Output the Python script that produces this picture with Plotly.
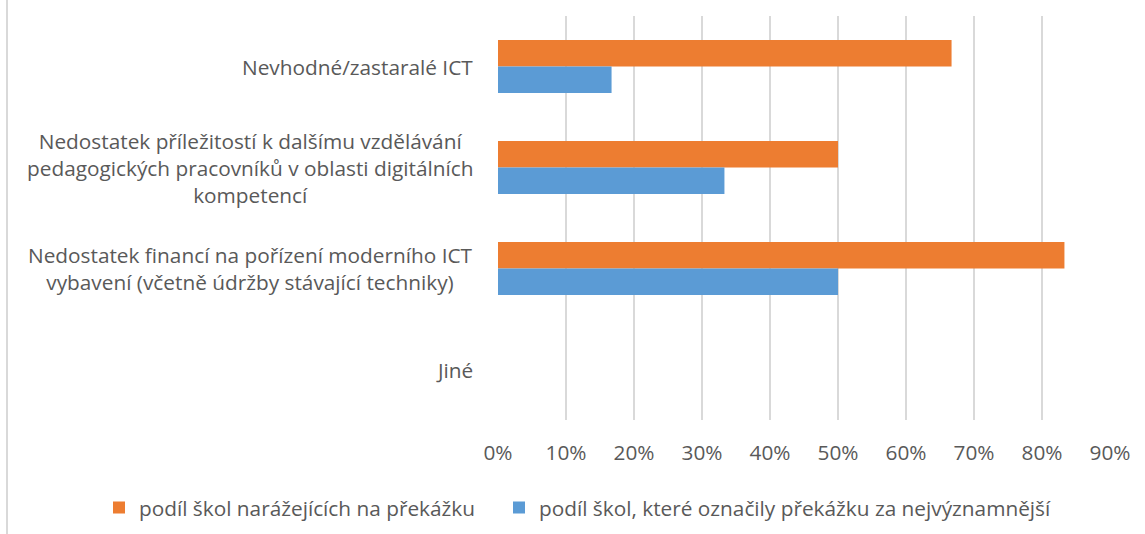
import plotly.graph_objects as go

categories = [
    "Nevhodné/zastaralé ICT",
    "Nedostatek příležitostí k dalšímu vzdělávání<br>pedagogických pracovníků v oblasti digitálních<br>kompetencí",
    "Nedostatek financí na pořízení moderního ICT<br>vybavení (včetně údržby stávající techniky)",
    "Jiné",
]
series_names = [
    "podíl škol narážejících na překážku",
    "podíl škol, které označily překážku za nejvýznamnější",
]
orange_vals = [0.667, 0.50, 0.833, 0.0]
blue_vals = [0.167, 0.333, 0.50, 0.0]
tick_vals = [0, 0.1, 0.2, 0.3, 0.4, 0.5, 0.6, 0.7, 0.8, 0.9]
tick_text = ["0%", "10%", "20%", "30%", "40%", "50%", "60%", "70%", "80%", "90%"]

FONT = "Open Sans"
FS = 20.8
TXT = "#595959"
W, H = 1145, 534
L, R, T, B = 498, 35, 16, 114
ph = H - T - B
pw = W - L - R

fig = go.Figure()
fig.add_trace(go.Bar(y=categories, x=orange_vals, name=series_names[0], orientation="h",
                     marker=dict(color="#ED7D31", line=dict(width=0)), legend="legend"))
fig.add_trace(go.Bar(y=categories, x=blue_vals, name=series_names[1], orientation="h",
                     marker=dict(color="#5B9BD5", line=dict(width=0)), legend="legend2"))

for c in categories:
    fig.add_annotation(text=c, x=-23 / pw, xref="paper", y=c, yref="y",
                       xanchor="right", yanchor="middle", align="center", showarrow=False,
                       font=dict(family=FONT, size=FS, color=TXT))

fig.add_shape(type="line", xref="paper", yref="paper",
              x0=(7 - L) / pw, x1=(7 - L) / pw, y0=-B / ph - 0.05, y1=1 + T / ph + 0.05,
              line=dict(color="#D9D9D9", width=2))

leg_common = dict(orientation="h", xanchor="left", yref="paper",
                  y=-(508 - (H - B)) / ph, yanchor="middle",
                  font=dict(family=FONT, size=FS, color=TXT), itemwidth=30,
                  bgcolor="rgba(0,0,0,0)")

fig.update_layout(
    width=W, height=H,
    margin=dict(l=L, r=R, t=T, b=B, autoexpand=False),
    paper_bgcolor="white", plot_bgcolor="white",
    barmode="group", bargap=0.475, bargroupgap=0,
    font=dict(family=FONT, color=TXT, size=FS),
    xaxis=dict(range=[0, 0.9], tickvals=tick_vals, ticktext=tick_text,
               showgrid=True, gridcolor="#D9D9D9", gridwidth=1.5,
               zeroline=False, showline=False, ticks="", ticklabelstandoff=18,
               tickfont=dict(family=FONT, size=FS, color=TXT)),
    yaxis=dict(autorange="reversed", showticklabels=False, showgrid=False,
               zeroline=False, showline=False, ticks=""),
    legend=dict(xref="paper", x=(99 - L) / pw, **leg_common),
    legend2=dict(xref="paper", x=(499 - L) / pw, **leg_common),
    showlegend=True,
)

fig.write_html("out.html", config={"displayModeBar": False},
               post_script="document.body.style.margin='0px';")
